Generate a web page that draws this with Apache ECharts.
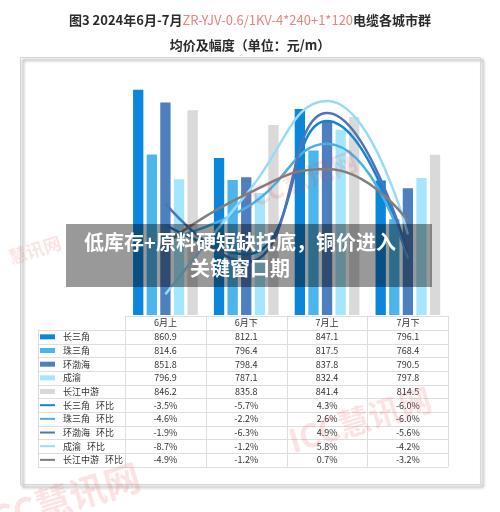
<!DOCTYPE html>
<html><head><meta charset="utf-8">
<script src="https://cdn.jsdelivr.net/npm/echarts@6/dist/echarts.min.js"></script>
<style>html,body{margin:0;padding:0;background:#fff}#c{width:500px;height:512px}</style>
</head><body><div id="c"></div>
<script>
// ---- data ----
const categories = ['6月上', '6月下', '7月上', '7月下'];
const regions = ['长三角', '珠三角', '环渤海', '成渝', '长江中游'];
const priceYRD = [860.9, 812.1, 847.1, 796.1];
const pricePRD = [814.6, 796.4, 817.5, 768.4];
const priceBohai = [851.8, 798.4, 837.8, 790.5];
const priceChengyu = [796.9, 787.1, 832.4, 797.8];
const priceMidYangtze = [846.2, 835.8, 841.4, 814.5];
const chgYRD = [-3.5, -5.7, 4.3, -6.0];
const chgPRD = [-4.6, -2.2, 2.6, -6.0];
const chgBohai = [-1.9, -6.3, 4.9, -5.6];
const chgChengyu = [-8.7, -1.2, 5.8, -4.2];
const chgMidYangtze = [-4.9, -1.2, 0.7, -3.2];
const titleA = '图3 2024年6月-7月';
const titleB = 'ZR-YJV-0.6/1KV-4*240+1*120';
const titleC = '电缆各城市群';
const subTitle = '均价及幅度（单位：元/m）';
const bannerLines = ['低库存+原料硬短缺托底，铜价进入', '关键窗口期'];
const chgSuffix = '环比';

// ---- styling ----
const prices = [priceYRD, pricePRD, priceBohai, priceChengyu, priceMidYangtze];
const chgs = [chgYRD, chgPRD, chgBohai, chgChengyu, chgMidYangtze];
const barColors = ['#0A86DA', '#4BB5EC', '#4E7FBE', '#A6E6FC', '#D9D9D9'];
const lineColors = ['#1483D4', '#4BAFE6', '#4E74B8', '#97DCF7', '#7F7F7F'];
const FONT = '"Noto Sans CJK SC", sans-serif';

const GL = 125, GR = 448.3, GT = 63, GB = 315;
const colW = (GR - GL) / categories.length;

const series = [];
regions.forEach((r, i) => {
  series.push({
    name: r, type: 'bar', data: prices[i], yAxisIndex: 0,
    barWidth: 10.3, barGap: '32%',
    itemStyle: { color: barColors[i] }, z: 2
  });
});
regions.forEach((r, i) => {
  series.push({
    name: r + ' ' + chgSuffix, type: 'line', data: chgs[i], yAxisIndex: 1,
    smooth: 0.5, symbol: 'none',
    lineStyle: { color: lineColors[i], width: 2.5 }, z: 3
  });
});

// ---- table graphics ----
const graphics = [];
const L = 37.7, HT = 315.7, HB = 330, RH = 13.67;
const rows = [];
regions.forEach((r, i) => rows.push({ label: r, kind: 'bar', color: barColors[i], vals: prices[i].map(v => v.toFixed(1)) }));
regions.forEach((r, i) => rows.push({ label: r + '   ' + chgSuffix, kind: 'line', color: lineColors[i], vals: chgs[i].map(v => v.toFixed(1) + '%') }));
const TB = HB + rows.length * RH;
const gridColor = '#dedede';
function hline(x1, x2, y) { graphics.push({ type: 'line', shape: { x1, y1: Math.round(y) + 0.5, x2, y2: Math.round(y) + 0.5 }, style: { stroke: gridColor, lineWidth: 1 }, silent: true }); }
function vline(x, y1, y2) { graphics.push({ type: 'line', shape: { x1: Math.round(x) + 0.5, y1, x2: Math.round(x) + 0.5, y2 }, style: { stroke: gridColor, lineWidth: 1 }, silent: true }); }
hline(GL, GR, HT);
for (let i = 0; i <= rows.length; i++) hline(L, GR, HB + i * RH);
vline(L, HB, TB);
for (let c = 0; c <= categories.length; c++) vline(GL + c * colW, HT, TB);
categories.forEach((c, ci) => {
  graphics.push({ type: 'text', x: GL + (ci + 0.5) * colW, y: (HT + HB) / 2, style: { text: c, font: '9px ' + FONT, fill: '#333', textAlign: 'center', textVerticalAlign: 'middle' } });
});
rows.forEach((row, ri) => {
  const cy = HB + (ri + 0.5) * RH;
  if (row.kind === 'bar') {
    graphics.push({ type: 'rect', shape: { x: 40, y: cy - 2.5, width: 15, height: 5 }, style: { fill: row.color } });
  } else {
    graphics.push({ type: 'line', shape: { x1: 40, y1: cy, x2: 55, y2: cy }, style: { stroke: row.color, lineWidth: 2 } });
  }
  graphics.push({ type: 'text', x: 63, y: cy, style: { text: row.label, font: '9px ' + FONT, fill: '#333', textVerticalAlign: 'middle' } });
  row.vals.forEach((v, ci) => {
    graphics.push({ type: 'text', x: GL + (ci + 0.5) * colW, y: cy, style: { text: v, font: '9px ' + FONT, fill: '#333', textAlign: 'center', textVerticalAlign: 'middle' } });
  });
});

// frame
graphics.push({ type: 'rect', shape: { x: 20.5, y: 57.5, width: 460, height: 427 }, style: { fill: 'none', stroke: '#d6d6d6', lineWidth: 1, shadowBlur: 3, shadowOffsetX: 2.5, shadowOffsetY: 2.5, shadowColor: 'rgba(0,0,0,0.55)' }, z: -1, silent: true });

// watermarks
const wm = 'rgba(225,70,70,0.15)';
graphics.push({ type: 'text', x: 300, y: 180, rotation: 0.35, style: { text: 'ICC慧讯网', font: 'bold 26px ' + FONT, fill: wm, textAlign: 'center', textVerticalAlign: 'middle' }, z: 50 });
graphics.push({ type: 'text', x: 360, y: 420, rotation: 0.3, style: { text: 'ICC慧讯网', font: 'bold 32px ' + FONT, fill: wm, textAlign: 'center', textVerticalAlign: 'middle' }, z: 50 });
graphics.push({ type: 'text', x: 60, y: 500, rotation: 0.3, style: { text: 'ICC慧讯网', font: 'bold 36px ' + FONT, fill: wm, textAlign: 'center', textVerticalAlign: 'middle' }, z: 50 });
graphics.push({ type: 'text', x: 35, y: 250, rotation: 0.3, style: { text: '慧讯网', font: 'bold 18px ' + FONT, fill: wm, textAlign: 'center', textVerticalAlign: 'middle' }, z: 50 });

// banner
graphics.push({ type: 'rect', shape: { x: 66, y: 224, width: 366, height: 63 }, style: { fill: 'rgba(0,0,0,0.4)' }, z: 100 });
bannerLines.forEach((t, i) => {
  graphics.push({ type: 'text', x: 240, y: 242 + i * 26.5, style: { text: t, font: 'bold 20px ' + FONT, fill: '#fff', textAlign: 'center', textVerticalAlign: 'middle' }, z: 101 });
});

const chart = echarts.init(document.getElementById('c'), null, { renderer: 'canvas' });
chart.setOption({
  animation: false,
  title: [
    { text: '{a|' + titleA + '}{r|' + titleB + '}{a|' + titleC + '}', left: 'center', top: 9,
      textStyle: { rich: { a: { fontFamily: FONT, fontSize: 13, fontWeight: 'bold', color: '#2b2b2b' }, r: { fontFamily: FONT, fontSize: 13, fontWeight: 'normal', color: '#E8847B' } } } },
    { text: subTitle, left: 'center', top: 34, textStyle: { fontFamily: FONT, fontSize: 13, fontWeight: 'bold', color: '#2b2b2b' } }
  ],
  grid: { left: GL, right: 500 - GR, top: GT, bottom: 512 - GB, containLabel: false },
  xAxis: { type: 'category', data: categories, axisLine: { show: false }, axisTick: { show: false }, axisLabel: { show: false } },
  yAxis: [
    { type: 'value', min: 700, max: 880, show: false, splitLine: { show: false } },
    { type: 'value', min: -10.25, max: 8.65, show: false, splitLine: { show: false } }
  ],
  series,
  graphic: graphics
});
</script></body></html>
